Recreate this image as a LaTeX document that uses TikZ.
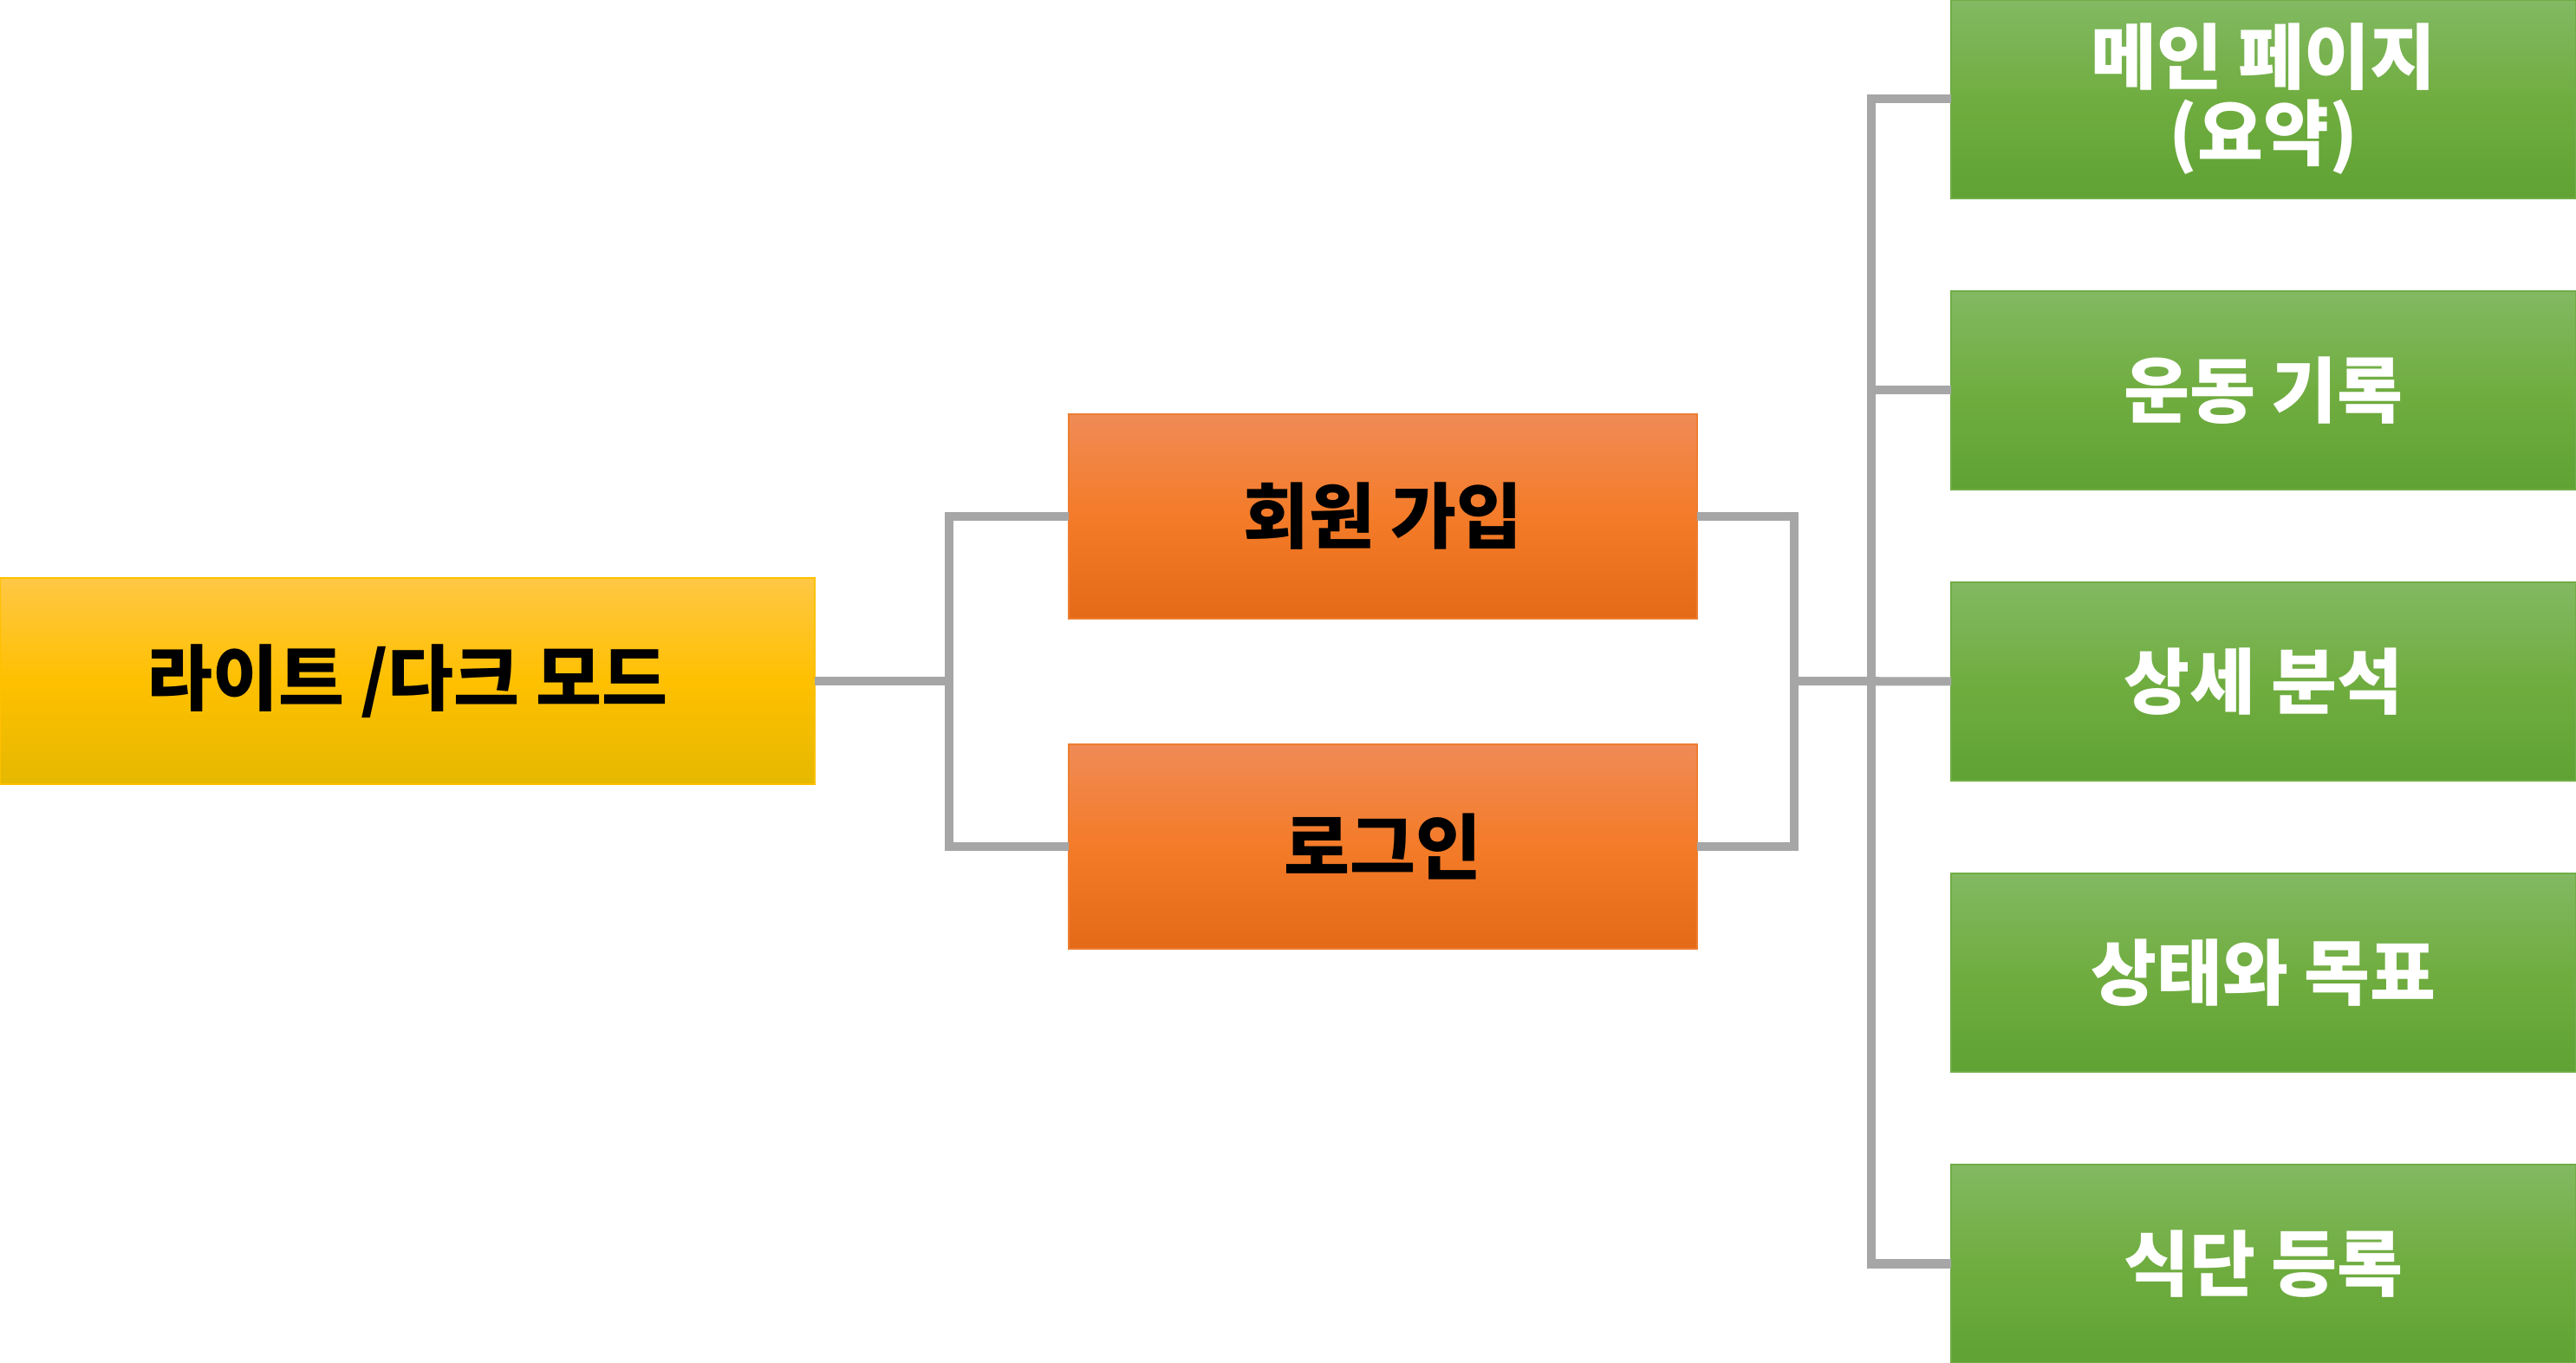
\documentclass[tikz,border=0pt]{standalone}
\usepackage{fontspec}
\newfontfamily\korfont{Noto Sans CJK KR}
\usetikzlibrary{positioning}

\definecolor{wiregray}{HTML}{A6A6A6}
\definecolor{themeline}{HTML}{FFC000}
\definecolor{themetop}{HTML}{FFC745}
\definecolor{thememid}{HTML}{FFC000}
\definecolor{themebot}{HTML}{E5B800}
\definecolor{authline}{HTML}{ED7D31}
\definecolor{authtop}{HTML}{F08B56}
\definecolor{authmid}{HTML}{F47B28}
\definecolor{authbot}{HTML}{E46A18}
\definecolor{pageline}{HTML}{70AD47}
\definecolor{pagetop}{HTML}{82B962}
\definecolor{pagemid}{HTML}{70AD40}
\definecolor{pagebot}{HTML}{60A234}

\begin{document}
\begin{tikzpicture}[node distance={10.7mm},
    font=\korfont\bfseries\fontsize{23.5pt}{25pt}\selectfont,
    box/.style = {rectangle, inner sep=0pt, outer sep=0pt, line width=0.6pt, align=center},
    themebox/.style = {box, draw=themeline, top color=themetop, bottom color=themebot, middle color=thememid, minimum width=94mm, minimum height=23.8mm},
    authbox/.style = {box, draw=authline, top color=authtop, bottom color=authbot, middle color=authmid, minimum width=72.5mm, minimum height=23.6mm},
    pagebox/.style = {box, draw=pageline, top color=pagetop, bottom color=pagebot, middle color=pagemid, text=white, minimum width=72.1mm, minimum height=22.9mm},
    wire/.style = {draw=wiregray, line width=2.85pt}]
    \useasboundingbox (0,0) rectangle (29.72,15.73);

    \node[themebox] (M) at (4.70,7.87) {라이트 /다크 모드};

    \node[authbox] (S) at (15.955,9.77) {회원 가입};
    \node[authbox] (L) [below=14.5mm of S] {로그인};

    \node[pagebox] (P1) at (26.115,14.585) {메인 페이지\\(요약)};
    \node[pagebox] (P2) [below=of P1] {운동 기록};
    \node[pagebox] (P3) [below=of P2] {상세 분석};
    \node[pagebox] (P4) [below=of P3] {상태와 목표};
    \node[pagebox] (P5) [below=of P4] {식단 등록};

    \coordinate (lj) at (10.95,7.87);
    \coordinate (rj) at (20.70,7.87);
    \coordinate[left=9.2mm of P1.west] (bus);

    \draw[wire] (M.east) -- (lj);
    \draw[wire] (S.west) -| (lj) |- (L.west);

    \draw[wire] (S.east) -| (rj) |- (L.east);
    \draw[wire] (rj) -- (P3.west);

    \draw[wire] (P1.west) -- (bus) |- (P5.west);
    \draw[wire] (P2.west) -- (P2.west -| bus);
\end{tikzpicture}
\end{document}
